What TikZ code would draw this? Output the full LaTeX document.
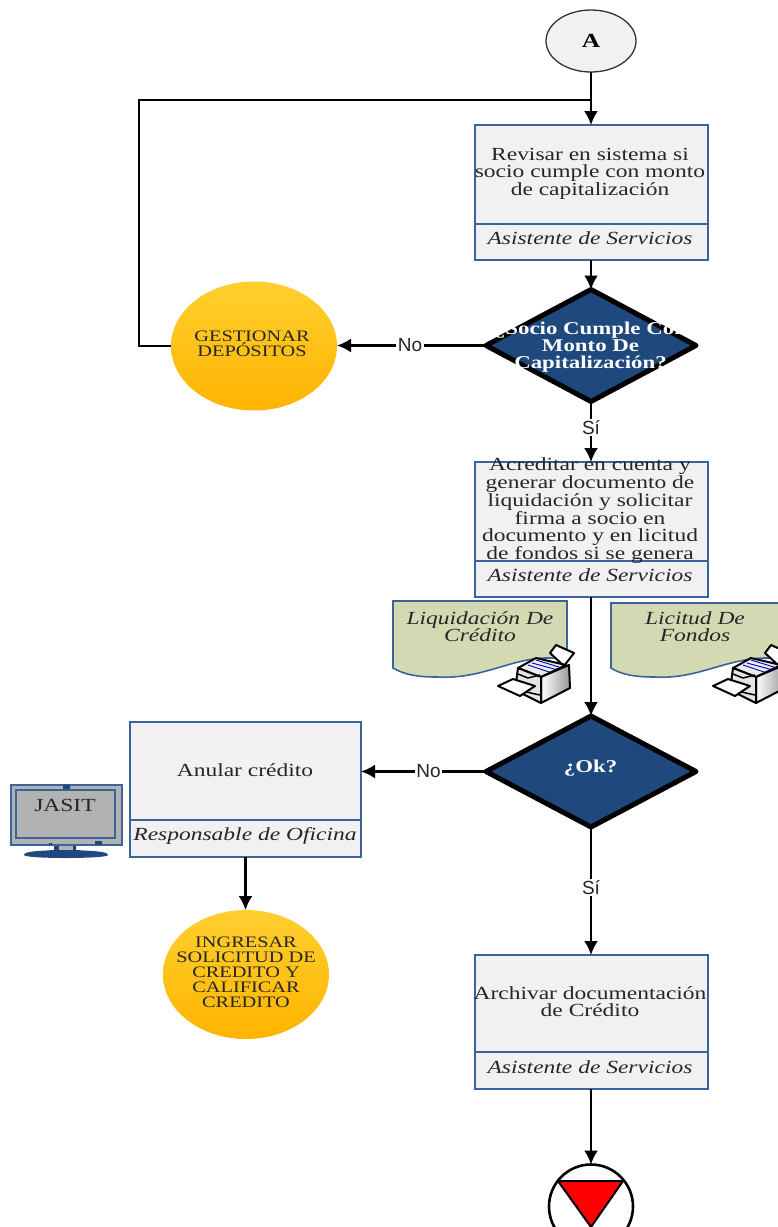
\documentclass[tikz,border=0pt]{standalone}
\usepackage{fontspec}
\setmainfont[FakeStretch=1.27]{Liberation Serif}
\newfontfamily\lblfont{Liberation Sans}
\usetikzlibrary{shapes.geometric,arrows.meta}
\definecolor{bluedge}{HTML}{3A649A}
\definecolor{navy}{HTML}{1F497D}
\definecolor{pale}{HTML}{F1F1F1}
\definecolor{docgreen}{HTML}{D3DAB3}
\definecolor{screen}{HTML}{B2B2B2}
\definecolor{balltop}{HTML}{FFCF30}
\definecolor{ballbot}{HTML}{FFB400}
\tikzset{
  procbox/.style={draw=bluedge,line width=1.8pt,fill=pale,rectangle,inner sep=0,outer sep=0},
  divider/.style={draw=bluedge,line width=1.5pt},
  boxtext/.style={align=center,font=\fontsize{18.5}{16.8}\selectfont,inner sep=0,text=black!85},
  roletext/.style={font=\fontsize{18.5}{17}\selectfont\itshape,inner sep=0,text=black!85},
  decision/.style={diamond,draw=black,line width=5pt,line join=round,fill=navy,inner sep=0,outer sep=0},
  decisiontext/.style={align=center,text=white,font=\fontsize{18}{17.2}\selectfont\bfseries,inner sep=0},
  yellowball/.style={ellipse,inner sep=0,outer sep=0,top color=balltop,bottom color=ballbot,draw=none},
  balltext/.style={align=center,font=\fontsize{16}{15}\selectfont,inner sep=0,text=black!85},
  flow/.style={draw=black,line width=2.2pt,-{Latex[length=14pt,width=14pt]}},
  plain/.style={draw=black,line width=2.2pt},
  edgelabel/.style={font=\lblfont\fontsize{19}{19}\selectfont,fill=white,inner sep=1.5pt,text=black!85},
  doctext/.style={align=center,font=\fontsize{18.5}{16.8}\selectfont\itshape,inner sep=0,text=black!85},
  docshape/.style={draw=bluedge,line width=1.6pt,fill=docgreen},
}
\newcommand{\printericon}[2]{%
  \begin{scope}[shift={(#1,#2)},line join=round]
    \draw[black,line width=2pt,fill=white] (52,10)--(58,2)--(76,10)--(66,23)--cycle;
    \draw[black,line width=2pt,fill=black!8] (20,25)--(38,15)--(68,22)--(43,34)--cycle;
    \draw[blue!70!black,line width=.9pt] (34,20)--(60,27) (38,17)--(64,25) (30,22)--(54,30);
    \draw[black,line width=2pt,left color=white,right color=black!40] (43,34)--(71,22)--(72,45)--(43,60)--cycle;
    \draw[black,line width=2pt,fill=black!10] (20,25)--(43,34)--(43,60)--(17,47)--cycle;
    \draw[black,line width=1.5pt] (20,31)--(30,35)--(42,32) (24,48)--(42,52);
    \draw[black,line width=2pt,fill=white] (0,43)--(15,36)--(37,43)--(22,53)--cycle;
  \end{scope}}
\begin{document}
\begin{tikzpicture}[x=1pt,y=-1pt]
\useasboundingbox (0,0) rectangle (777,1227);
% start
\node[ellipse,draw=black!80,line width=1.3pt,fill=pale,minimum width=90pt,minimum height=62pt,inner sep=0,outer sep=0,font=\fontsize{20}{20}\selectfont\bfseries] (start) at (591,41) {A};
% box 1
\node[procbox,minimum width=233pt,minimum height=135pt] (b1) at (591.5,192.5) {};
\draw[divider] (475,224) -- (708,224);
\node[boxtext] (b1t) at (590,174) {Revisar en sistema si\\socio cumple con monto\\de capitalización};
\node[roletext] (b1r) at (590,238) {Asistente de Servicios};
% decision 1
\node[decision,minimum width=210pt,minimum height=112pt] (d1) at (591,345.5) {};
\node[decisiontext] (d1t) at (590.5,347) {¿Socio Cumple Con\\Monto De\\Capitalización?};
% gestionar
\node[yellowball,minimum width=166pt,minimum height=129pt] (g1) at (254,346) {};
\node[balltext] (g1t) at (252,344) {GESTIONAR\\DEPÓSITOS};
% box 2
\node[procbox,minimum width=233pt,minimum height=135pt] (b2) at (591.5,529.5) {};
\draw[divider] (475,561) -- (708,561);
\node[boxtext] (b2t) at (590,510.5) {Acreditar en cuenta y\\generar documento de\\liquidación y solicitar\\firma a socio en\\documento y en licitud\\de fondos si se genera};
\node[roletext] (b2r) at (590,575) {Asistente de Servicios};
% documents
\draw[docshape] (393,601) -- (567,601) -- (567,660) .. controls (520,650) and (490,680) .. (437,677) .. controls (418,677) and (405,675) .. (393,668) -- cycle;
\node[doctext] (doc1) at (480,627) {Liquidación De\\Crédito};
\draw[docshape] (611,603) -- (790,603) -- (790,660) .. controls (735,650) and (705,680) .. (655,677) .. controls (636,677) and (622,675) .. (611,668) -- cycle;
\node[doctext] (doc2) at (695,627) {Licitud De\\Fondos};
% decision 2
\node[decision,minimum width=210pt,minimum height=111pt] (d2) at (591,771.5) {};
\node[decisiontext] (d2t) at (590.5,768) {¿Ok?};
% connector under printers
\draw[flow] (b2.south -| d2.north) -- (d2.north);
\printericon{498}{643}
\printericon{713}{643}
% anular box
\node[procbox,minimum width=231pt,minimum height=135pt] (b4) at (245.5,789.5) {};
\draw[divider] (130,820) -- (361,820);
\node[boxtext] (b4t) at (245,770) {Anular crédito};
\node[roletext] (b4r) at (245,836) {Responsable de Oficina};
% monitor
\draw[fill=navy,draw=none] (24,855) .. controls (24,851) and (40,851) .. (54,850) -- (54,844) -- (76,844) -- (76,850) .. controls (90,851) and (108,851) .. (108,855) .. controls (108,859) and (24,859) .. (24,855) -- cycle;
\fill[screen] (59,844) rectangle (73,850);
\node[draw=bluedge,line width=1.7pt,fill=screen,minimum width=111pt,minimum height=60pt,inner sep=0,outer sep=0] (mon) at (66.5,815) {};
\draw[bluedge,line width=1.7pt] (16,790) rectangle (115,838);
\fill[navy] (63,784.5) rectangle (70,789) (95,841) rectangle (102,845) (49,843) rectangle (52,845);
\node[font=\fontsize{18.5}{18}\selectfont,inner sep=0,text=black!85] (mont) at (65,805) {JASIT};
% ingresar
\node[yellowball,minimum width=166pt,minimum height=129pt] (g2) at (246,974.5) {};
\node[balltext] (g2t) at (246,972) {INGRESAR\\SOLICITUD DE\\CREDITO Y\\CALIFICAR\\CREDITO};
% box 3
\node[procbox,minimum width=233pt,minimum height=134pt] (b3) at (591.5,1022) {};
\draw[divider] (475,1052) -- (708,1052);
\node[boxtext] (b3t) at (590,1002) {Archivar documentación\\de Crédito};
\node[roletext] (b3r) at (590,1067) {Asistente de Servicios};
% end
\node[ellipse,draw=black,line width=2.6pt,fill=white,minimum width=84pt,minimum height=84pt,inner sep=0,outer sep=0] (stop) at (591,1206.5) {};
\draw[black,line width=2pt,fill=red,line join=round] (558,1181) -- (623,1181) -- (591,1227) -- cycle;
% connectors
\coordinate (join) at (591,100);
\coordinate (turn1) at (139,346);
\coordinate (turn2) at (139,100);
\draw[flow] (start.south) -- (start.south |- b1.north);
\draw[flow] (b1.south -| d1.north) -- (d1.north);
\draw[flow] (d1.west) -- node[edgelabel,pos=.51] (no1) {No} (d1.west -| g1.east);
\draw[plain] (g1.west) -- (turn1) -- (turn2) -- (join);
\draw[flow] (d1.south) -- node[edgelabel,pos=.43] (si1) {Sí} (d1.south |- b2.north);
\draw[flow] (d2.west) -- node[edgelabel,pos=.46] (no2) {No} (d2.west -| b4.east);
\draw[flow] (d2.south) -- node[edgelabel,pos=.47] (si2) {Sí} (d2.south |- b3.north);
\draw[flow] (b4.south) -- (b4.south |- g2.north);
\draw[flow] (stop.north |- b3.south) -- (stop.north);
\end{tikzpicture}
\end{document}
